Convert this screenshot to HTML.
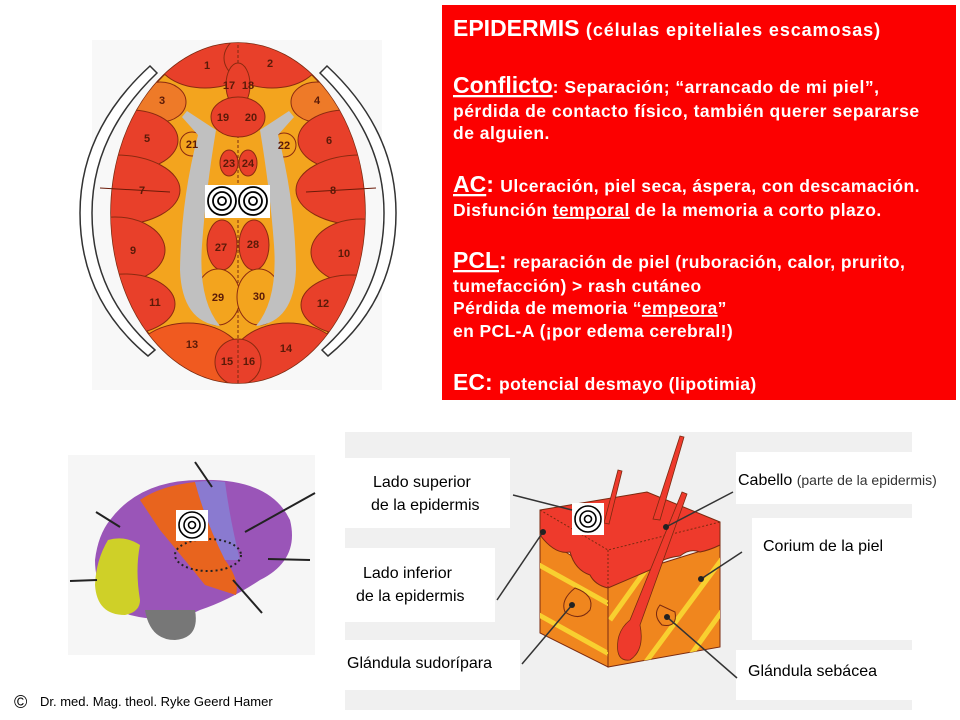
<!DOCTYPE html>
<html><head><meta charset="utf-8"><style>
html,body{margin:0;padding:0;background:#fff;}
svg{display:block;}
text{font-family:"Liberation Sans",Arial,sans-serif;}
</style></head><body>
<svg width="960" height="720" viewBox="0 0 960 720" xmlns="http://www.w3.org/2000/svg">
<defs>
<clipPath id="ov"><ellipse cx="238" cy="213" rx="127" ry="170"/></clipPath>
<clipPath id="cubeL"><polygon points="540,535 608,580 608,667 540,633"/></clipPath>
<clipPath id="cubeR"><polygon points="608,580 720,545 720,647 608,667"/></clipPath>
</defs>
<rect x="92" y="40" width="290" height="350" fill="#f8f8f8"/>
<path d="M157,73 L150,66 Q80,130 80,213 Q80,300 148,356 L155,350 Q92,295 92,213 Q92,135 157,73 Z" fill="#fff" stroke="#333" stroke-width="1.5"/>
<path d="M320,73 L327,66 Q396,130 396,213 Q396,300 328,356 L322,350 Q384,295 384,213 Q384,135 320,73 Z" fill="#fff" stroke="#333" stroke-width="1.5"/>
<ellipse cx="238" cy="213" rx="127" ry="170" fill="#f3a41e" stroke="#7a2a10" stroke-width="1.5"/>
<g clip-path="url(#ov)" stroke="#8b2a10" stroke-width="1">
<ellipse cx="205" cy="58" rx="48" ry="30" fill="#e8402a"/>
<ellipse cx="272" cy="58" rx="48" ry="30" fill="#e8402a"/>
<ellipse cx="160" cy="102" rx="26" ry="20" fill="#ee7a28"/>
<ellipse cx="317" cy="102" rx="26" ry="20" fill="#ee7a28"/>
<ellipse cx="130" cy="140" rx="48" ry="30" fill="#e8402a"/>
<ellipse cx="346" cy="140" rx="48" ry="30" fill="#e8402a"/>
<ellipse cx="115" cy="190" rx="65" ry="35" fill="#e8402a"/>
<ellipse cx="361" cy="190" rx="65" ry="35" fill="#e8402a"/>
<ellipse cx="115" cy="250" rx="50" ry="33" fill="#e8402a"/>
<ellipse cx="361" cy="252" rx="50" ry="33" fill="#e8402a"/>
<ellipse cx="125" cy="304" rx="50" ry="30" fill="#e8402a"/>
<ellipse cx="351" cy="305" rx="50" ry="30" fill="#e8402a"/>
<ellipse cx="188" cy="365" rx="58" ry="42" fill="#f05a20"/>
<ellipse cx="288" cy="365" rx="58" ry="42" fill="#e8402a"/>
<circle cx="238" cy="362" r="23" fill="#e8402a"/>
</g>
<line x1="100" y1="188" x2="170" y2="192" stroke="#6a1a08"/>
<line x1="306" y1="192" x2="376" y2="188" stroke="#6a1a08"/>
<line x1="238" y1="45" x2="238" y2="383" stroke="#7a2a10" stroke-dasharray="3,2"/>
<g stroke="#8b2a10" stroke-width="1">
<ellipse cx="238" cy="85" rx="12" ry="22" fill="#e8402a"/>
<ellipse cx="238" cy="117" rx="27" ry="20" fill="#e8402a"/>
<circle cx="192" cy="144" r="12" fill="#f3a41e"/>
<circle cx="284" cy="145" r="12" fill="#f3a41e"/>
<ellipse cx="229" cy="163" rx="9" ry="13" fill="#e8402a"/>
<ellipse cx="248" cy="163" rx="9" ry="13" fill="#e8402a"/>
<ellipse cx="222" cy="245" rx="15" ry="25" fill="#e8402a"/>
<ellipse cx="254" cy="245" rx="15" ry="25" fill="#e8402a"/>
<ellipse cx="218" cy="297" rx="22" ry="28" fill="#f3a41e"/>
<ellipse cx="259" cy="297" rx="22" ry="28" fill="#f3a41e"/>
</g>
<path d="M182,117 L187,111 L216,130 Q206,190 202,245 Q198,300 220,326 Q182,322 180,270 Q181,200 198,135 Z" fill="#c0c0c0"/>
<path d="M294,117 L289,111 L260,130 Q270,190 274,245 Q278,300 256,326 Q294,322 296,270 Q295,200 278,135 Z" fill="#c0c0c0"/>
<g font-size="11" font-weight="bold" fill="#5a1a08" text-anchor="middle">
<text x="207" y="69">1</text><text x="270" y="67">2</text>
<text x="229" y="89">17</text><text x="248" y="89">18</text>
<text x="162" y="104">3</text><text x="317" y="104">4</text>
<text x="223" y="121">19</text><text x="251" y="121">20</text>
<text x="147" y="142">5</text><text x="329" y="144">6</text>
<text x="192" y="148">21</text><text x="284" y="149">22</text>
<text x="229" y="167">23</text><text x="248" y="167">24</text>
<text x="142" y="194">7</text><text x="333" y="194">8</text>
<text x="221" y="251">27</text><text x="253" y="248">28</text>
<text x="133" y="254">9</text><text x="344" y="257">10</text>
<text x="218" y="301">29</text><text x="259" y="300">30</text>
<text x="155" y="306">11</text><text x="323" y="307">12</text>
<text x="192" y="348">13</text><text x="286" y="352">14</text>
<text x="227" y="365">15</text><text x="249" y="365">16</text>
</g>
<rect x="205" y="185" width="65" height="33" fill="#fff"/>
<g fill="none" stroke="#000" stroke-width="1.8">
<circle cx="222" cy="201" r="14"/><circle cx="222" cy="201" r="9"/><circle cx="222" cy="201" r="4"/>
<circle cx="253" cy="201" r="14"/><circle cx="253" cy="201" r="9"/><circle cx="253" cy="201" r="4"/>
</g>
<rect x="442" y="5" width="514" height="395" fill="#fc0000"/>
<g fill="#fff" font-weight="bold">
<text x="453" y="36" font-size="23">EPIDERMIS <tspan font-size="18" letter-spacing="0.9">(células epiteliales escamosas)</tspan></text>
<text x="453" y="93" font-size="23"><tspan text-decoration="underline">Conflicto</tspan><tspan font-size="17.5" letter-spacing="0.5">: Separación; “arrancado de mi piel”,</tspan></text>
<g font-size="17.5" letter-spacing="0.5">
<text x="453" y="117">pérdida de contacto físico, también querer separarse</text>
<text x="453" y="139">de alguien.</text>
</g>
<text x="453" y="192" font-size="23"><tspan text-decoration="underline">AC</tspan>: <tspan font-size="17.5" letter-spacing="0.4">Ulceración, piel seca, áspera, con descamación.</tspan></text>
<g font-size="17.5" letter-spacing="0.4">
<text x="453" y="216">Disfunción <tspan text-decoration="underline">temporal</tspan> de la memoria a corto plazo.</text>
</g>
<text x="453" y="268" font-size="23"><tspan text-decoration="underline">PCL</tspan>: <tspan font-size="17.5" letter-spacing="0.4">reparación de piel (ruboración, calor, prurito,</tspan></text>
<g font-size="17.5" letter-spacing="0.4">
<text x="453" y="292">tumefacción) &gt; rash cutáneo</text>
<text x="453" y="314">Pérdida de memoria “<tspan text-decoration="underline">empeora</tspan>”</text>
<text x="453" y="337">en PCL-A (¡por edema cerebral!)</text>
</g>
<text x="453" y="390" font-size="23">EC: <tspan font-size="17.5" letter-spacing="0.4">potencial desmayo (lipotimia)</tspan></text>
</g>
<rect x="68" y="455" width="247" height="200" fill="#f6f6f6"/>
<path d="M110,520 Q140,480 200,480 Q270,478 290,520 Q300,560 260,580 Q230,600 200,610 Q170,625 130,615 Q95,600 95,560 Q98,535 110,520 Z" fill="#9a55b8"/>
<path d="M145,610 Q150,640 175,640 Q200,638 195,610 Z" fill="#777"/>
<path d="M108,540 Q96,560 95,585 Q97,615 125,615 Q140,612 140,600 Q135,570 140,545 Q125,535 108,540 Z" fill="#cfd028"/>
<path d="M140,500 Q160,486 195,482 Q205,520 225,560 Q240,580 236,595 Q220,590 205,585 Q185,560 160,530 Z" fill="#e8641e"/>
<path d="M195,482 Q210,480 225,482 Q230,520 240,560 L225,560 Q205,520 195,482 Z" fill="#8a7ad0"/>
<ellipse cx="208" cy="555" rx="33" ry="16" fill="none" stroke="#222" stroke-width="2" stroke-dasharray="2,3"/>
<g stroke="#222" stroke-width="2">
<line x1="195" y1="462" x2="212" y2="487"/>
<line x1="96" y1="512" x2="120" y2="527"/>
<line x1="315" y1="493" x2="245" y2="532"/>
<line x1="70" y1="581" x2="97" y2="580"/>
<line x1="310" y1="560" x2="268" y2="559"/>
<line x1="233" y1="580" x2="262" y2="613"/>
</g>
<rect x="176" y="510" width="32" height="31" fill="#fff"/>
<g fill="none" stroke="#000" stroke-width="1.6"><circle cx="192" cy="525" r="13"/><circle cx="192" cy="525" r="8"/><circle cx="192" cy="525" r="3.5"/></g>
<rect x="345" y="432" width="567" height="278" fill="#f0f0f0"/>
<rect x="345" y="458" width="165" height="70" fill="#fff"/>
<rect x="345" y="548" width="150" height="74" fill="#fff"/>
<rect x="345" y="640" width="175" height="50" fill="#fff"/>
<rect x="736" y="452" width="224" height="52" fill="#fff"/>
<rect x="752" y="518" width="160" height="122" fill="#fff"/>
<rect x="736" y="650" width="176" height="50" fill="#fff"/>
<polygon points="540,535 608,580 608,667 540,633" fill="#f0861e" stroke="#7a2a10"/>
<polygon points="608,580 720,545 720,647 608,667" fill="#f0861e" stroke="#7a2a10"/>
<g clip-path="url(#cubeL)" stroke="#f8d030" stroke-width="5">
<line x1="530" y1="560" x2="620" y2="610"/><line x1="530" y1="610" x2="620" y2="660"/>
</g>
<g clip-path="url(#cubeR)" stroke="#f8d030" stroke-width="5">
<line x1="610" y1="620" x2="660" y2="550"/><line x1="640" y1="670" x2="725" y2="555"/><line x1="680" y1="670" x2="730" y2="600"/>
</g>
<path d="M540,510 L647,492 L720,522 L720,545 Q710,550 700,552 Q690,548 680,556 Q660,558 650,570 L608,588 Q595,585 590,575 Q575,570 570,552 Q555,555 540,535 Z" fill="#ee3a2c" stroke="#7a2a10"/>
<polyline points="540,510 608,550 720,522" fill="none" stroke="#7a2a10" stroke-dasharray="2,2"/>
<line x1="608" y1="550" x2="608" y2="667" stroke="#7a2a10" stroke-dasharray="2,2"/>
<path d="M575,588 Q560,600 565,612 Q580,622 590,610 Q595,595 575,588 Z" fill="#f0861e" stroke="#7a2a10"/>
<path d="M660,605 Q652,615 662,625 Q678,628 675,612 Z" fill="#f0861e" stroke="#7a2a10"/>
<path d="M618,470 L622,471 L609,524 L604,523 Z" fill="#ee3a2c" stroke="#7a2a10" stroke-width="0.8"/>
<path d="M680,436 L684,437 L660,520 L653,519 Z" fill="#ee3a2c" stroke="#7a2a10" stroke-width="0.8"/>
<path d="M682,492 L687,494 L640,625 Q645,650 630,660 Q615,662 618,640 Q620,628 630,620 Z" fill="#ee3a2c" stroke="#7a2a10" stroke-width="0.8"/>
<rect x="572" y="503" width="32" height="32" fill="#fff"/>
<g fill="none" stroke="#000" stroke-width="1.6"><circle cx="588" cy="519" r="13"/><circle cx="588" cy="519" r="8"/><circle cx="588" cy="519" r="3.5"/></g>
<g stroke="#333" stroke-width="1.5">
<line x1="513" y1="495" x2="572" y2="510"/>
<line x1="666" y1="527" x2="733" y2="492"/>
<line x1="701" y1="579" x2="742" y2="552"/>
<line x1="543" y1="532" x2="497" y2="600"/>
<line x1="572" y1="605" x2="522" y2="664"/>
<line x1="667" y1="617" x2="737" y2="678"/>
</g>
<g fill="#222"><circle cx="543" cy="532" r="3"/><circle cx="666" cy="527" r="3"/><circle cx="701" cy="579" r="3"/><circle cx="572" cy="605" r="3"/><circle cx="667" cy="617" r="3"/></g>
<g font-size="16" fill="#000">
<text x="373" y="487">Lado superior</text>
<text x="371" y="510">de la epidermis</text>
<text x="363" y="578">Lado inferior</text>
<text x="356" y="601">de la epidermis</text>
<text x="347" y="668">Glándula sudorípara</text>
<text x="738" y="485">Cabello <tspan font-size="14" fill="#333">(parte de la epidermis)</tspan></text>
<text x="763" y="551">Corium de la piel</text>
<text x="748" y="676">Glándula sebácea</text>
</g>
<text x="14" y="708" font-size="18" fill="#000">©</text>
<text x="40" y="706" font-size="13" fill="#000">Dr. med. Mag. theol. Ryke Geerd Hamer</text>
</svg>
</body></html>
